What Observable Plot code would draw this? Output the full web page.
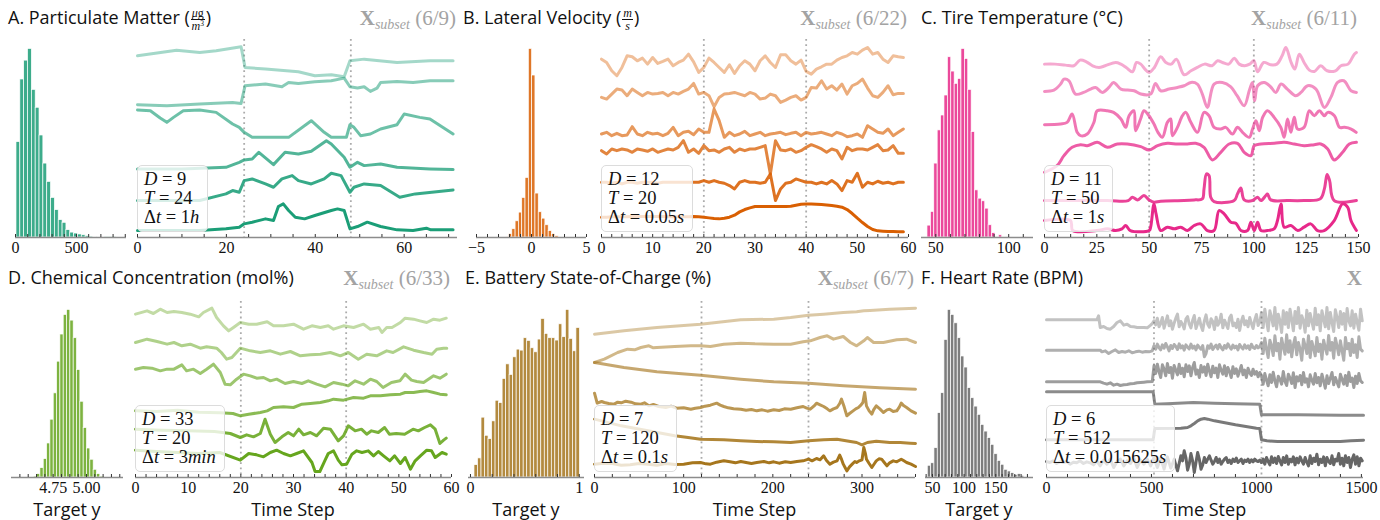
<!DOCTYPE html>
<html><head><meta charset="utf-8">
<script src="https://cdn.jsdelivr.net/npm/d3@7"></script>
<script src="https://cdn.jsdelivr.net/npm/@observablehq/plot@0.6"></script>
<style>
body{margin:0;background:#fff;}
#root{position:relative;width:1380px;height:520px;overflow:hidden;font-family:"Open Sans",Lato,sans-serif;}
.title{position:absolute;font-size:18px;line-height:22px;color:#111;white-space:nowrap;}
.xs{position:absolute;font-family:"Liberation Serif",serif;color:#a3a3a3;font-size:21px;line-height:24px;white-space:nowrap;text-align:right;}
.xs sub{font-size:14px;font-style:italic;vertical-align:-4px;line-height:14px;}
.box{position:absolute;background:rgba(255,255,255,0.8);border:1px solid #dcdcdc;border-radius:5px;padding:4px 8px 4px 6px;font-family:"Liberation Serif",serif;font-size:18.5px;line-height:19px;color:#111;white-space:nowrap;}
.box div{height:19px;}
.lab{position:absolute;font-size:18px;line-height:19px;color:#111;white-space:nowrap;transform:translateX(-50%);}
.frac{display:inline-block;vertical-align:-6px;text-align:center;font-family:"Liberation Serif",serif;font-size:12px;line-height:12px;margin:0 1px;}
.frac .n{display:block;border-bottom:0.8px solid #111;padding:0 1px;}
.frac .d{display:block;}
.frac sup{font-size:7.5px;vertical-align:4px;line-height:0;}
</style></head><body><div id="root"></div><script>
// ---------------- histogram data (relative bar heights, tallest = 100) ----------------
const histA_bins = [8, 31.5];          // [first edge, bin width]
const histA_counts = [50.6,83.8,93.8,100,78.3,68.8,54.1,39.2,29.5,21.0,14.5,9.2,7.8,3.9,2.6,2.1,1.6,1.2,0.7,0.5,0.3,0.3,0.2,0.1,0.1,0.1];
const histB_bins = [-2.35, 0.301];
const histB_counts = [0.4,1.8,4.4,8.6,13.2,21,31.6,100,85.9,23.3,13.4,10,6.5,3.4,1.8,0.7];
const histC_bins = [44.3, 2.33];
const histC_counts = [6.3,13.6,39.2,56.8,64.7,75.3,95.6,88,81.5,84.1,100,94.7,78.3,55.9,25,20.6,19.2,15.3,6.5,2.3,0.4,1.2,0,0.3,0,0,0,0,0.3];
const histD_bins = [4.604, 0.025];
const histD_counts = [0.6,2,5.6,11,20.3,34.5,50.2,69.1,85.3,97,100,93.6,83.1,64.1,45.2,29.5,17.3,10.6,4.6,2,0.6];
const histE_bins = [0.037, 0.0323];
const histE_counts = [7.4,11.4,35.7,24.9,22.9,33.5,45.8,44.4,58.8,67.5,61.2,71.7,76.3,75.7,83.1,81.5,77.1,74.7,82.3,94.6,85.7,83.1,83.1,81.7,91.4,83.7,100,82.7,75.3,89.2];
const histF_bins = [42.6, 5.26];
const histF_counts = [7,8.5,17.5,38.4,50.3,82.1,100,97,92,83.1,72.2,65.6,53.3,47.3,42.3,37.4,31.4,27.4,23.5,19.5,13.9,9.9,7.6,4.6,3.6,2.6,1.6,2,1];

// ---------------- time series (stacked, arbitrary level units), [t, level] ----------------
const A1 = [[0,546],[8.8,563],[14,556],[17.7,561],[23.3,573],[24.2,511],[28.8,506],[36.2,498],[39.9,486],[43.6,489],[46.5,483],[47.8,531],[51,536],[58.4,526],[65.8,531],[71,531]];
const A2 = [[0,399],[6.6,396],[14,401],[21.4,406],[23.3,403],[24.2,456],[28.8,461],[32.5,453],[34,466],[36.2,463],[39.9,468],[43.6,471],[46.5,479],[47.8,453],[49.5,449],[51,453],[52.4,439],[53.9,449],[54.7,466],[58.4,469],[62,466],[65.8,471],[71,471]];
const A3 = [[0,383],[2.9,381],[5.1,359],[6.6,346],[8.1,361],[10.3,381],[14,383],[17.7,376],[21.4,341],[22.9,331],[24,316],[25.8,301],[34,301],[39.1,351],[42,316],[43.6,301],[47,301],[47.8,339],[48.7,331],[50.2,306],[52.4,311],[54.7,326],[58.4,339],[60,371],[63.5,361],[65.8,356],[71,311]];
const A4 = [[0,206],[10,206],[19.9,211],[22.9,226],[24,233],[25.8,236],[27.3,256],[30.6,219],[33.2,256],[36.2,251],[39.1,259],[42.5,291],[43.6,281],[46.5,241],[47.8,211],[49.5,226],[51,216],[54.7,221],[58.4,211],[65.8,206],[71,204]];
const A5 = [[0,111],[14,111],[19.9,131],[21.4,141],[22.9,136],[24,171],[25.8,176],[28.8,161],[30.6,151],[32.5,176],[34.8,186],[36.2,171],[39.1,161],[42,176],[43.6,193],[45.8,186],[47.8,136],[48.7,151],[51,161],[54.7,156],[59,121],[62.5,131],[71,143]];
const A6 = [[0,21],[14,21],[19.9,26],[22.9,31],[24,41],[25.8,46],[28.8,56],[30.6,51],[31.7,93],[32.8,101],[34,81],[35.5,61],[37.6,56],[39.9,66],[43.6,81],[45,86],[46.5,81],[47.8,26],[49.5,33],[51.7,46],[54.7,33],[58.4,23],[62,21],[65,28],[66,23],[71,23]];

// B: one level per time step (t = 0..59)
const B1 = [536,526,501,486,511,546,543,531,539,521,541,523,529,536,516,526,533,551,528,496,511,539,526,511,496,519,493,516,531,521,501,531,546,526,511,549,549,531,521,533,499,491,506,513,521,521,533,541,546,556,551,563,571,551,556,536,526,546,543,541];
const B2 = [421,416,431,446,443,426,446,436,426,436,431,433,436,426,436,431,439,446,463,431,436,426,393,421,431,433,436,431,426,436,431,416,419,431,426,406,413,421,426,413,421,451,449,471,446,456,443,461,431,456,463,476,449,426,421,436,456,429,433,433];
const B3 = [311,316,306,313,306,308,333,311,306,316,311,313,306,313,331,306,316,319,309,326,316,316,386,351,301,316,306,311,319,306,311,316,306,311,313,316,309,313,316,306,316,311,313,316,311,306,316,311,303,306,311,301,336,326,316,313,326,306,316,326];
const B4 = [261,251,266,261,266,263,256,266,263,259,266,256,261,266,263,271,291,256,266,253,276,261,263,256,266,271,256,266,261,266,266,271,276,191,291,263,261,266,256,261,271,279,273,266,256,266,261,236,271,261,266,266,263,271,279,261,263,276,253,253];
const B5 = [166,166,163,166,161,166,166,163,166,166,166,163,166,166,166,166,166,166,166,166,171,166,171,166,163,156,146,166,171,166,166,163,166,191,111,146,163,166,176,171,166,166,161,166,161,171,161,141,171,166,193,151,166,161,169,163,166,161,166,166];
const B6 = [61,61,62,62,62,62,63,63,63,63,63,63,63,62,62,62,62,62,63,62,61,59,57,56,58,61,67,77,84,89,93,93,93,93,93,93,93,94,97,100,101,101,100,99,98,96,94,91,84,72,58,45,33,24,20,19,18,18,17,17];

const C1 = [[0,521],[5,521],[10,518],[14,516],[17,533],[20,528],[23,516],[26,511],[29,516],[34,526],[36.5,521],[39,511],[42,498],[44,526],[46,521],[48,506],[50,496],[52.5,511],[55.5,543],[58,526],[60.5,521],[63,536],[66.7,489],[70,501],[73,511],[76.5,521],[80,516],[82.7,531],[85,526],[88,521],[90.6,539],[93,521],[95.6,516],[98,521],[100,531],[101.8,498],[104.7,526],[108,519],[111,521],[113.5,546],[115.3,571],[117.8,526],[119.6,506],[121.7,551],[124,526],[126.5,503],[128.9,499],[132,516],[135,501],[139,501],[141.6,516],[145,521],[148,551],[149,556]];
const C2 = [[0,439],[4.5,443],[7.7,461],[9.3,476],[11.7,471],[14.8,431],[18.7,436],[22,446],[24.4,451],[27.6,436],[30.8,451],[33,466],[36.5,446],[39.7,443],[42.8,441],[46,431],[50.7,431],[53,463],[55.5,441],[59.5,446],[63.5,451],[66.7,456],[70,466],[73,461],[75.4,431],[77.8,391],[81,461],[85,466],[89,453],[92,426],[95.4,396],[97.8,441],[99.3,466],[100.4,411],[101.8,456],[105,466],[108,453],[110.5,436],[113,461],[116,446],[120,426],[122.5,436],[125.7,456],[129.7,446],[133.7,391],[136.8,421],[140,466],[143,471],[146.4,441],[149,436]];
const C3 = [[0,339],[7.7,341],[10.8,346],[13.2,371],[15.6,316],[17.2,306],[20.4,311],[23.6,346],[25.2,381],[30,381],[33,376],[36.5,356],[38.8,331],[40.4,366],[42.7,381],[43.5,321],[45.9,356],[47.5,381],[49.9,366],[52.3,341],[54.2,316],[56.3,301],[58.7,346],[60.3,356],[61.1,306],[63.5,331],[65.9,366],[67.5,376],[69.9,346],[73.1,316],[76.2,376],[78.6,366],[81,331],[84.2,326],[86.6,331],[89.8,311],[92.2,331],[94.6,316],[97.8,301],[99.4,326],[101,351],[102.6,321],[104.2,361],[106.5,381],[109.7,361],[112.9,331],[114.5,301],[116.1,356],[117.7,316],[119.3,361],[120.9,326],[124,331],[126.5,381],[128.9,366],[131.3,381],[133.7,366],[135.3,376],[138.5,366],[140.9,331],[143.3,331],[146.5,326],[148.9,316]];
const C4 = [[0,196],[6,216],[9.3,246],[13.2,271],[17.2,279],[20.4,276],[25.2,286],[30,271],[34.8,281],[39.6,281],[46,273],[50,263],[54,276],[58.7,283],[63.5,281],[68.3,281],[72.2,283],[76.2,271],[80.2,233],[84.2,256],[88.2,281],[92.2,283],[95.4,256],[98.6,246],[100.2,276],[103.4,281],[109.8,283],[114.5,286],[119.3,281],[124,276],[128.9,279],[132,281],[135.3,266],[138.4,233],[142.4,256],[145.6,281],[149,286]];
const C5 = [[0,111],[30,111],[40,111],[42,121],[44.5,113],[47.5,126],[50,113],[52.3,106],[55.5,109],[66.7,111],[71.5,113],[75.4,116],[76.2,146],[77.4,191],[78.6,186],[79.4,121],[81,108],[90.6,111],[92.2,131],[93.8,149],[95.4,113],[99.4,111],[101.8,121],[103.4,111],[105.7,126],[106.5,131],[108.1,113],[116.1,111],[124,111],[131.7,116],[133.7,146],[135,189],[136.2,171],[138.4,111],[149,111]];
const C6 = [[0,51],[12.4,51],[13.5,21],[25,21],[30,26],[34,21],[37,26],[38.8,36],[41,21],[50,21],[50.7,31],[52.3,101],[53.3,71],[55.5,21],[58.7,31],[62,26],[65.1,31],[68.3,21],[71.5,36],[74.6,41],[77.8,21],[81,21],[83.4,81],[85.8,71],[89,46],[91.4,43],[93.8,21],[97,21],[98.6,46],[100.2,21],[101.8,46],[103.4,21],[106.5,21],[109.7,26],[111.3,51],[113,101],[114.5,31],[117.7,36],[121,21],[124,31],[127.2,41],[130.4,21],[133.6,21],[138.4,51],[142.4,101],[144.8,91],[146.4,51],[149,21]];

const D1 = [[0,490],[2.2,500],[3.4,492],[4.7,505],[6,495],[7.3,498],[8.8,495],[10.4,490],[12,482],[12.9,495],[14.5,508],[15.4,480],[16.7,455],[17.7,440],[18.6,450],[19.9,465],[21.5,460],[23,460],[25,467],[26.2,455],[28.1,455],[30,460],[31.9,445],[33.5,455],[35.1,450],[36.6,455],[37.6,445],[39.5,455],[41.4,450],[43.3,460],[44.6,445],[46.2,450],[46.8,435],[47.7,450],[48.7,450],[50.3,465],[51.2,478],[52.8,475],[54,470],[55.3,465],[56.6,475],[57.8,472],[59,478]];
const D2 = [[0,405],[2.2,415],[4.1,408],[6,400],[7.3,405],[8.8,395],[10.4,400],[12.3,388],[13.5,392],[15.4,388],[16.3,375],[17.3,355],[18.3,360],[19.9,388],[21.8,380],[23.7,375],[25.6,380],[27.5,370],[29.4,378],[31.3,365],[33.2,368],[35.1,370],[37,375],[38.9,365],[40.4,375],[42.3,355],[43.9,370],[45.8,365],[47.7,380],[48.9,375],[50.9,392],[52.8,382],[54.7,375],[56.3,370],[57.2,385],[58.5,388],[59.1,388]];
const D3 = [[0,325],[1.5,330],[3.1,328],[4.7,320],[6,325],[7.3,325],[8.8,338],[9.7,320],[11,325],[12.3,312],[13.5,325],[14.8,340],[16.1,315],[17,280],[18,278],[19.2,295],[20.5,310],[21.8,305],[23,298],[24.3,300],[25.6,290],[26.8,295],[28.4,282],[30,288],[31.6,282],[32.8,290],[34.4,280],[36,272],[37.6,285],[39.2,280],[40.4,275],[41.7,290],[43.3,280],[44.6,295],[45.8,288],[47,270],[48.6,285],[50.2,290],[51.2,310],[52.4,292],[53.4,288],[54.7,285],[56.6,305],[57.8,298],[59,310]];
const D4 = [[0,200],[4,198],[8,202],[12,196],[16,194],[18.5,192],[19.9,185],[21.5,190],[23.7,195],[25,200],[26.2,210],[28.1,212],[30,210],[31.6,220],[33.2,222],[35.1,225],[36.6,230],[37.6,235],[39.5,232],[41.4,240],[43.3,238],[44.6,245],[46.5,245],[48.4,248],[50.3,250],[51.2,255],[52.8,255],[54,258],[55.3,260],[56.6,255],[57.8,250],[59,248]];
const D5 = [[0,145],[5,142],[10,140],[15,138],[18,132],[19.9,120],[21.1,128],[22.4,122],[23.7,132],[24.6,175],[25.6,130],[26.5,105],[27.8,122],[29,135],[30,125],[31,145],[31.9,128],[33.2,135],[34.4,125],[35.7,148],[37,145],[38.5,110],[39.5,125],[40.4,155],[41.7,140],[42.9,145],[43.9,130],[44.8,140],[46.1,135],[47.3,150],[48.2,130],[49.5,132],[51.1,130],[52.7,145],[53.7,140],[54.9,150],[56,158],[56.9,145],[57.8,102],[58.5,112],[59,118]];
const D6 = [[0,82],[4,78],[8,75],[12,72],[16,75],[19.9,52],[21.5,72],[23,68],[24.3,62],[25.6,75],[26.8,82],[28.1,72],[29.4,65],[30.6,72],[31.9,80],[33.5,45],[34.1,18],[35,18],[36,52],[36.6,72],[37.6,80],[38.5,52],[39.2,38],[40.1,40],[41.1,70],[42,80],[43,75],[44.2,80],[45.2,65],[46.1,78],[47.1,65],[48.3,50],[49.2,65],[50.3,42],[51.2,60],[52.2,25],[53.1,50],[54.1,65],[55.3,82],[56.2,80],[56.9,60],[58.2,75],[59,70]];

const E1 = [[0,430],[33,440],[70,450],[119,460],[164,473],[201,475],[220,480],[240,487],[257,490],[279,495],[294,497],[302,500],[309,501],[331,505],[360,508]];
const E2 = [[0,345],[11,355],[26,375],[37,385],[45,383],[52,390],[61,395],[66,389],[70,390],[90,393],[108,395],[119,395],[130,393],[145,400],[164,403],[180,401],[201,400],[220,400],[234,407],[242,410],[253,420],[261,425],[268,415],[279,423],[287,405],[294,395],[302,410],[306,420],[313,405],[324,405],[339,413],[350,415],[360,405]];
const E3 = [[0,345],[33,330],[70,317],[119,307],[164,295],[201,287],[240,283],[279,275],[320,269],[360,265]];
const E4 = [[0,253],[3,223],[8,228],[11,225],[16,222],[22,220],[26,226],[30,224],[35,229],[41,226],[46,221],[52,220],[56,224],[61,215],[66,219],[72,213],[80,210],[86,214],[92,208],[100,209],[108,205],[113,208],[119,210],[124,214],[130,217],[137,223],[141,217],[145,213],[150,209],[156,206],[164,205],[170,202],[176,204],[182,200],[188,203],[194,199],[201,203],[207,201],[213,206],[220,205],[227,209],[234,213],[238,208],[242,205],[246,214],[249,223],[253,218],[257,213],[261,206],[264,200],[268,206],[272,210],[275,222],[277,235],[280,212],[283,185],[286,192],[290,200],[293,206],[296,210],[299,218],[301,225],[303,255],[305,215],[308,200],[311,190],[313,203],[316,215],[320,206],[324,195],[328,203],[331,205],[335,198],[339,200],[342,212],[344,223],[347,215],[350,210],[355,200],[360,193]];
const E5 = [[0,175],[30,155],[60,140],[90,125],[105,120],[119,115],[145,113],[164,110],[182,108],[201,107],[220,105],[240,110],[257,113],[272,115],[287,108],[294,105],[300,98],[306,105],[316,109],[331,105],[343,105],[354,103],[360,102]];
const E6 = [[0,40],[10,43],[20,42],[30,37],[40,38],[50,42],[60,40],[70,37],[80,42],[90,39],[100,40],[110,44],[119,45],[125,41],[130,40],[137,46],[145,50],[152,47],[158,44],[164,48],[170,45],[176,42],[182,45],[190,48],[196,44],[201,47],[207,43],[214,47],[220,45],[227,48],[234,50],[240,55],[244,50],[249,57],[253,53],[257,65],[260,52],[264,40],[268,46],[272,50],[275,67],[277,55],[279,40],[281,30],[283,20],[286,32],[289,40],[292,48],[294,45],[297,50],[300,53],[302,90],[304,70],[305,55],[308,42],[311,30],[314,42],[316,50],[319,56],[322,55],[325,45],[328,35],[331,44],[335,50],[339,47],[344,55],[347,50],[350,45],[355,40],[360,33]];

// F: calm parts as [t, level]; noisy parts as one level every F_step steps from a start time
const F_step = 8;
const F1_calm = [[0,473],[240,473],[248,485],[256,450],[272,453],[288,447],[304,445],[320,453],[336,465],[352,470],[368,457],[384,460],[400,453],[416,452],[432,450],[464,450],[480,449],[496,457],[504,462]];
const F1_noisy = [470,458,478,452,462,480,448,466,485,455,470,445,463,478,490,452,468,459,446,475,483,460,449,471,486,447,462,478,455,441,470,488,460,451,476,468,444,481,457,466,490,449,472,460,447,479,487,455,463,450,475,441,468,484,458,470,452,480,462,447,473,489,456,466,495,450,505,470,440,500,480,455,510,445,490,470,435,500,460,495,450,505,475,440,498,462,510,448,485,470,436,502,455,492,468,445,508,458,488,440,500,475,452,510,446,495,465,438,503,480,450,498,460,492,443,507,470,455,500,448,490,465,442,505,470];
const F2_calm = [[0,382],[256,382],[264,377],[280,380],[296,372],[312,378],[328,383],[344,375],[360,378],[376,376],[392,380],[408,374],[424,377],[440,379],[456,376],[472,378],[488,377],[504,380]];
const F2_noisy = [395,385,400,390,383,398,388,402,392,380,396,387,399,393,384,401,389,395,382,398,391,386,400,388,394,383,397,390,385,396,362,372,395,388,400,384,392,397,386,399,390,383,396,388,401,392,385,397,389,394,383,399,391,386,398,388,395,384,400,390,387,396,389,393,405,372,418,385,360,412,395,366,425,380,402,355,418,392,370,428,376,410,362,398,420,368,405,385,352,415,395,372,425,360,408,388,365,420,378,400,355,412,390,370,426,382,405,358,418,394,368,410,380,352,420,386,402,366,415,375,398,360,422,385,380];
const F3_calm = [[0,287],[256,287],[272,283],[288,280],[304,284],[320,277],[336,280],[352,276],[368,278],[384,279],[400,281],[416,282],[432,284],[448,285],[464,286],[480,287],[504,288]];
const F3_noisy = [335,312,340,318,300,338,325,305,342,315,330,298,336,322,308,340,312,328,302,338,318,335,305,330,345,310,322,300,336,316,332,306,340,320,302,334,314,328,300,338,322,310,335,305,330,318,300,332,312,326,304,320,336,308,322,300,328,314,306,325,310,318,302,315,305,280,312,292,275,308,285,316,290,272,304,295,280,318,288,276,310,298,282,314,270,302,290,306,278,315,286,296,272,308,292,280,312,284,300,275,310,290,268,305,282,298,315,278,300,286,272,310,294,280,306,276,316,288,298,270,304,282,312,290,285];
const F4 = [[0,257],[508,257],[516,220],[600,222],[700,225],[800,223],[900,221],[1016,220],[1024,188],[1200,188],[1400,187],[1510,187]];
const F5 = [[0,113],[508,113],[516,147],[640,148],[672,150],[688,155],[704,162],[720,170],[736,175],[752,177],[768,175],[800,170],[850,164],[900,158],[950,153],[1000,148],[1016,147],[1024,113],[1050,110],[1100,108],[1400,108],[1450,110],[1510,112]];
const F6_early = [48,45,50,42,47,45,48,40,46,44,50,42,47,44,38,50,35,52,40,55,30,48,55,35,50,42,58,30,52,40,55,35,60,30,58,25,62,28,55,20,65]; // every 16 steps from t=0
const F6_noisy = [50,80,60,22,40,72,50,15,45,75,55,25,38,60,45,55,65,52,40,48,60,45,55,40,48,55,60,45,52,42,55,48,58,45,50,55,42,52,48,55,45,53,47,55,50,48,52,45,55,40,60,48,38,62,45,58,42,63,50,38,60,45,65,40,55,47,62,38,58,44,62,50,40,60,46,35,65,42,58,48,70,38,55,45,62,35,60,48,42,65,38,55,50,72,40,58,35,65,45,60,30,55,68,40,62,35,58,50];

// ---------------- rendering ----------------
const root = document.getElementById("root");
const SERIF = "'Liberation Serif', serif";
const ALPHA = [0.4, 0.52, 0.64, 0.76, 0.88, 1.0];
const COLORS = {A:"#1b9e77", B:"#d95f02", C:"#e7298a", D:"#66a61e", E:"#a6761d", F:"#666666"};

function steps(lo, hi, step) { const out = []; for (let i = 0; lo + i*step <= hi + 1e-9; i++) out.push(+(lo + i*step).toFixed(6)); return out; }
const fmtNum = d => d < 0 ? "\u2212" + Math.abs(d) : String(d);
const pairs = arr => arr.map(([t, h]) => ({t, h}));
const indexed = (arr, step, t0 = 0) => arr.map((h, i) => ({t: t0 + i*step, h}));

function put(node, left, top) { node.style.position = "absolute"; node.style.left = left + "px"; node.style.top = top + "px"; root.appendChild(node); }
function html(cls, inner, left, top, extra) {
  const d = document.createElement("div"); d.className = cls; d.innerHTML = inner;
  d.style.left = left + "px"; d.style.top = top + "px";
  if (extra) Object.assign(d.style, extra);
  root.appendChild(d); return d;
}

function axisMarks(H, h, minors, majors, fmt) {
  return [
    Plot.ruleY([0], {stroke: "#8c8c8c", strokeWidth: 1.3}),
    Plot.ruleX(minors, {y1: 0, y2: H*3/h, stroke: "#333", strokeWidth: 1}),
    Plot.axisX({ticks: majors, tickSize: 0, tickPadding: 4, tickFormat: fmt, label: null, fontSize: 16, fontFamily: SERIF, fill: "#111"})
  ];
}

function histPlot(o) {
  const bars = o.counts.map((c, i) => ({x1: o.bins[0] + i*o.bins[1], x2: o.bins[0] + (i+1)*o.bins[1], y: c})).filter(d => d.y > 0);
  const H = 105;
  const svg = Plot.plot({
    width: o.w, height: o.h + 24, marginTop: 0, marginBottom: 24, marginLeft: 0, marginRight: 0,
    style: {overflow: "visible", background: "transparent", fontFamily: SERIF, fontSize: "16px"},
    x: {domain: o.domain}, y: {domain: [0, H], axis: null},
    marks: [
      Plot.rect(bars, {x1: "x1", x2: "x2", y1: 0, y2: "y", fill: o.color, fillOpacity: 0.85, stroke: "white", strokeWidth: 0.7}),
      ...axisMarks(H, o.h, o.minors, o.majors, o.fmt || fmtNum)
    ]
  });
  put(svg, o.left, o.top);
}

function linePlot(o) {
  const svg = Plot.plot({
    width: o.w, height: o.h + 24, marginTop: 0, marginBottom: 24, marginLeft: 0, marginRight: 0,
    style: {overflow: "visible", background: "transparent", fontFamily: SERIF, fontSize: "16px"},
    x: {domain: o.domain}, y: {domain: [0, o.H], axis: null},
    marks: [
      Plot.ruleX([o.T, 2*o.T], {stroke: "#ababab", strokeWidth: 1.8, strokeDasharray: "1.8,3.4"}),
      ...o.series.map((s, k) => Plot.line(s, {x: "t", y: "h", stroke: o.color, strokeOpacity: ALPHA[k], strokeWidth: 3, strokeLinejoin: "round", strokeLinecap: "round", curve: o.curve || "linear"})),
      ...axisMarks(o.H, o.h, o.minors, o.majors, fmtNum)
    ]
  });
  put(svg, o.left, o.top);
}

const TOP = {y: 39, h: 198, H: 595, title: 6, box: 165};
const BOT = {y: 301, h: 176, H: 528, title: 266, box: 405};

const Fseries = [
  pairs(F1_calm).concat(indexed(F1_noisy, F_step, 512)),
  pairs(F2_calm).concat(indexed(F2_noisy, F_step, 512)),
  pairs(F3_calm).concat(indexed(F3_noisy, F_step, 512)),
  pairs(F4), pairs(F5),
  indexed(F6_early, 16, 0).concat(indexed(F6_noisy, F_step, 648))
];

const panels = [
  {id:"A", row:TOP, title:'A. Particulate Matter (<span class="frac"><span class="n"><i>μ</i>g</span><span class="d"><i>m</i><sup>3</sup></span></span>)', tx:8,
   hist:{left:15, w:111, domain:[0,910], bins:histA_bins, counts:histA_counts, majors:[0,500], minors:steps(0,900,100)},
   line:{left:137, w:320, domain:[0,72], T:24, series:[A1,A2,A3,A4,A5,A6].map(pairs), majors:[0,20,40,60], minors:steps(0,70,5)},
   box:['<i>D</i> = 9','<i>T</i> = 24','Δ<i>t</i> = 1<i>h</i>'], xs:'(6/9)'},
  {id:"B", row:TOP, title:'B. Lateral Velocity (<span class="frac"><span class="n"><i>m</i></span><span class="d"><i>s</i></span></span>)', tx:463,
   hist:{left:476, w:110, domain:[-5,5], bins:histB_bins, counts:histB_counts, majors:[-5,0,5], minors:steps(-5,5,1)},
   line:{left:601, w:307, domain:[0,60], T:20, series:[B1,B2,B3,B4,B5,B6].map(a => indexed(a,1)), majors:[0,10,20,30,40,50,60], minors:steps(0,60,2)},
   box:['<i>D</i> = 12','<i>T</i> = 20','Δ<i>t</i> = 0.05<i>s</i>'], xs:'(6/22)'},
  {id:"C", row:TOP, title:'C. Tire Temperature (°C)', tx:921,
   hist:{left:921, w:112, domain:[40.2,117], bins:histC_bins, counts:histC_counts, majors:[50,100], minors:steps(50,110,10)},
   line:{left:1044, w:314, domain:[0,150], T:50, series:[C1,C2,C3,C4,C5,C6].map(pairs), majors:[0,25,50,75,100,125,150], minors:steps(0,150,6.25), curve:"catmull-rom"},
   box:['<i>D</i> = 11','<i>T</i> = 50','Δ<i>t</i> = 1<i>s</i>'], xs:'(6/11)'},
  {id:"D", row:BOT, title:'D. Chemical Concentration (mol%)', tx:8,
   hist:{left:11, w:112, domain:[4.437,5.278], bins:histD_bins, counts:histD_counts, majors:[4.75,5.0], minors:steps(4.5,5.25,0.0625), fmt:d3.format(".2f")},
   line:{left:135, w:316, domain:[0,60], T:20, series:[D1,D2,D3,D4,D5,D6].map(pairs), majors:[0,10,20,30,40,50,60], minors:steps(0,60,2)},
   box:['<i>D</i> = 33','<i>T</i> = 20','Δ<i>t</i> = 3<i>min</i>'], xs:'(6/33)'},
  {id:"E", row:BOT, title:'E. Battery State-of-Charge (%)', tx:465,
   hist:{left:468, w:116, domain:[-0.018,1.048], bins:histE_bins, counts:histE_counts, majors:[0,1], minors:steps(0,1,0.2)},
   line:{left:594, w:321, domain:[0,360], T:120, series:[E1,E2,E3,E4,E5,E6].map(pairs), majors:[0,100,200,300], minors:steps(0,360,20)},
   box:['<i>D</i> = 7','<i>T</i> = 120','Δ<i>t</i> = 0.1<i>s</i>'], xs:'(6/7)'},
  {id:"F", row:BOT, title:'F. Heart Rate (BPM)', tx:921,
   hist:{left:925, w:108, domain:[39,209.6], bins:histF_bins, counts:histF_counts, majors:[50,100,150], minors:steps(40,200,10)},
   line:{left:1046, w:317, domain:[0,1510], T:512, series:Fseries, majors:[0,500,1000,1500], minors:steps(0,1500,100)},
   box:['<i>D</i> = 6','<i>T</i> = 512','Δ<i>t</i> = 0.015625<i>s</i>'], xs:null}
];

for (const p of panels) {
  const r = p.row, c = COLORS[p.id];
  histPlot({...p.hist, top: r.y, h: r.h, color: c});
  linePlot({...p.line, top: r.y, h: r.h, H: r.H, color: c});
  html("box", p.box.map(s => "<div>" + s + "</div>").join(""), p.line.left, r.box);
  html("title", p.title, p.tx, r.title);
  const right = 1380 - (p.line.left + p.line.w) + 1;
  html("xs", '<b>X</b>' + (p.xs ? '<sub>subset</sub> ' + p.xs : ''), 0, r.title, {left: "auto", right: right + "px"});
  if (r === BOT) {
    html("lab", "Target y", p.hist.left + p.hist.w/2, 500);
    html("lab", "Time Step", p.line.left + p.line.w/2, 500);
  }
}
</script></body></html>
